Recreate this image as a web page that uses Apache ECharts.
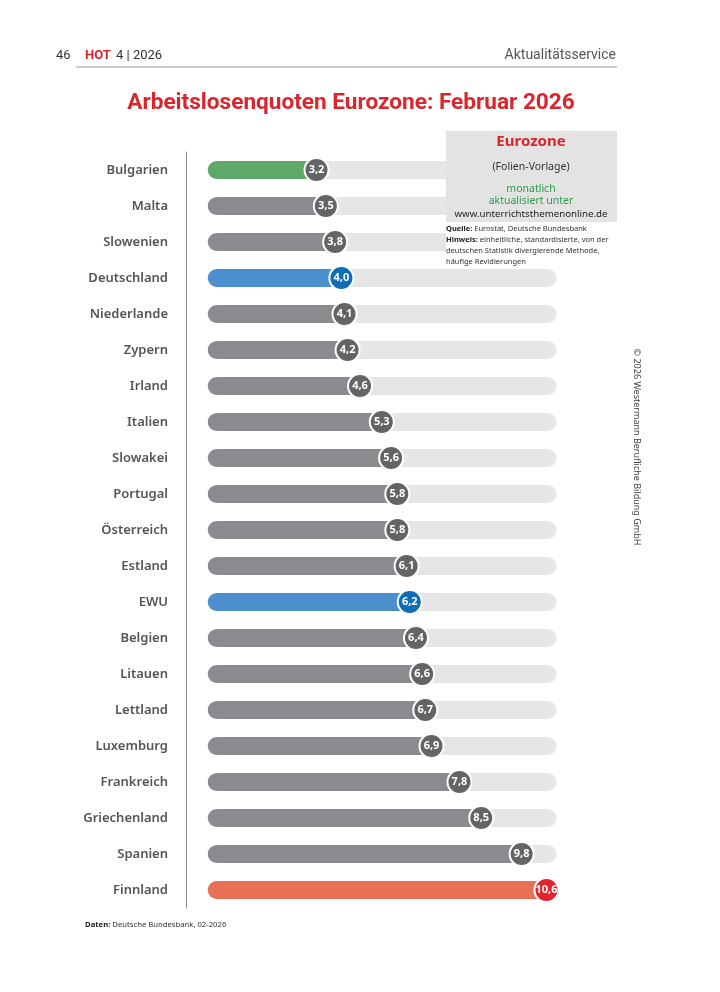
<!DOCTYPE html>
<html>
<head>
<meta charset="utf-8">
<script src="https://cdn.jsdelivr.net/npm/echarts@6/dist/echarts.min.js"></script>
<style>
html,body{margin:0;padding:0;background:#fff;}
#chart{width:720px;height:992px;}
</style>
</head>
<body>
<div id="chart"></div>
<script>
// ---- data ----
var categories = ['Bulgarien','Malta','Slowenien','Deutschland','Niederlande','Zypern','Irland','Italien','Slowakei','Portugal','Österreich','Estland','EWU','Belgien','Litauen','Lettland','Luxemburg','Frankreich','Griechenland','Spanien','Finnland'];
var rates = [3.2,3.5,3.8,4.0,4.1,4.2,4.6,5.3,5.6,5.8,5.8,6.1,6.2,6.4,6.6,6.7,6.9,7.8,8.5,9.8,10.6];
var highlight = ['low','base','base','de','base','base','base','base','base','base','base','base','de','base','base','base','base','base','base','base','high'];

var titleText = 'Arbeitslosenquoten Eurozone: Februar 2026';

// ---- styles ----
var barColors = {low:'#5ea86a', base:'#8a8b8e', de:'#4b8fcd', high:'#e96f55'};
var dotColors = {low:'#636466', base:'#636466', de:'#0e6db6', high:'#e0252d'};
var trackStart = -0.3, trackEnd = 10.92;

var chart = echarts.init(document.getElementById('chart'), null, {renderer:'canvas'});

var barData = rates.map(function(v,i){ return [i, v, highlight[i]]; });
var dotData = rates.map(function(v,i){
  return {value:[v, i], itemStyle:{color:dotColors[highlight[i]]}};
});

function fmt(v){ return v.toFixed(1).replace('.', ','); }

var FONT = 'Noto Sans';

chart.setOption({
  backgroundColor:'#ffffff',
  animation:false,
  textStyle:{fontFamily:FONT},
  grid:{left:186, right:130, top:152, bottom:84, containLabel:false},
  xAxis:{type:'value', min:-1, max:12, show:false},
  yAxis:{
    type:'category', inverse:true, data:categories,
    axisLine:{show:true, onZero:false, lineStyle:{color:'#8c8c8c', width:1}},
    axisTick:{show:false},
    axisLabel:{color:'#555555', fontSize:13, fontWeight:600, margin:18, fontFamily:FONT},
    splitLine:{show:false}
  },
  series:[
    {
      type:'custom',
      z:2,
      data:barData,
      encode:{x:1, y:0},
      renderItem:function(params, api){
        var i = api.value(0), v = api.value(1);
        var key = highlight[i];
        var p0 = api.coord([trackStart, i]);
        var pT = api.coord([trackEnd, i]);
        var pV = api.coord([v, i]);
        var h = 18;
        return {
          type:'group',
          children:[
            {type:'rect', shape:{x:p0[0], y:p0[1]-h/2, width:pT[0]-p0[0], height:h, r:h/2},
             style:{fill:'#e6e6e6'}},
            {type:'rect', shape:{x:p0[0], y:p0[1]-h/2, width:pV[0]-p0[0], height:h, r:h/2},
             style:{fill:barColors[key]}}
          ]
        };
      }
    },
    {
      type:'scatter',
      z:5,
      symbol:'circle',
      symbolSize:24,
      data:dotData,
      itemStyle:{borderColor:'#ffffff', borderWidth:2, opacity:1},
      label:{show:true, position:'inside', color:'#ffffff', fontSize:11, fontWeight:'bold', fontFamily:FONT,
        formatter:function(p){ return fmt(p.value[0]); }}
    }
  ],
  graphic:[
    // header
    {type:'text', left:56, top:49, z:10, style:{text:'46', fill:'#333', font:'13px "Roboto"'}},
    {type:'text', left:85, top:49, z:10, style:{text:'HOT', fill:'#d9262d', font:'bold 13px "Roboto"'}},
    {type:'text', left:116, top:49, z:10, style:{text:'4 | 2026', fill:'#333', font:'13px "Roboto"'}},
    {type:'text', right:104, top:48, z:10, style:{text:'Aktualitätsservice', fill:'#555', font:'14px "Roboto"', textAlign:'right'}},
    {type:'line', z:10, shape:{x1:76, y1:67, x2:617, y2:67}, style:{stroke:'#9a9a9a', lineWidth:1}},
    // title
    {type:'text', x:351, y:103, z:10, style:{text:titleText, fill:'#d9262d', font:'bold 22.6px "Roboto"', textAlign:'center', textVerticalAlign:'middle'}},
    // info box
    {type:'rect', z:20, shape:{x:446, y:131, width:171, height:137}, style:{fill:'#ffffff'}},
    {type:'rect', z:21, shape:{x:446, y:131, width:171, height:91}, style:{fill:'#e3e3e3'}},
    {type:'text', z:22, x:531, y:142, style:{text:'Eurozone', fill:'#d9262d', font:'bold 15px "Noto Sans"', textAlign:'center', textVerticalAlign:'middle'}},
    {type:'text', z:22, x:531, y:167, style:{text:'(Folien-Vorlage)', fill:'#333', font:'10.5px "Noto Sans"', textAlign:'center', textVerticalAlign:'middle'}},
    {type:'text', z:22, x:531, y:189, style:{text:'monatlich', fill:'#2e9a4b', font:'10.5px "Noto Sans"', textAlign:'center', textVerticalAlign:'middle'}},
    {type:'text', z:22, x:531, y:201, style:{text:'aktualisiert unter', fill:'#2e9a4b', font:'10.5px "Noto Sans"', textAlign:'center', textVerticalAlign:'middle'}},
    {type:'text', z:22, x:531, y:214, style:{text:'www.unterrichtsthemenonline.de', fill:'#222', font:'9.7px "Noto Sans"', textAlign:'center', textVerticalAlign:'middle'}},
    {type:'text', z:22, x:446, y:229, style:{text:'{b|Quelle:} Eurostat, Deutsche Bundesbank', textVerticalAlign:'middle',
      rich:{b:{fontWeight:'bold', fontSize:7.5, fill:'#222', fontFamily:'Noto Sans'}}, fill:'#333', font:'7.5px "Noto Sans"'}},
    {type:'text', z:22, x:446, y:240, style:{text:'{b|Hinweis:} einheitliche, standardisierte, von der', textVerticalAlign:'middle',
      rich:{b:{fontWeight:'bold', fontSize:7.5, fill:'#222', fontFamily:'Noto Sans'}}, fill:'#333', font:'7.5px "Noto Sans"'}},
    {type:'text', z:22, x:446, y:251, style:{text:'deutschen Statistik divergierende Methode,', fill:'#333', font:'7.5px "Noto Sans"', textVerticalAlign:'middle'}},
    {type:'text', z:22, x:446, y:262, style:{text:'häufige Revidierungen', fill:'#333', font:'7.5px "Noto Sans"', textVerticalAlign:'middle'}},
    // footer
    {type:'text', z:10, x:85, y:925, style:{text:'{b|Daten:} Deutsche Bundesbank, 02-2026', textVerticalAlign:'middle',
      rich:{b:{fontWeight:'bold', fontSize:7.7, fill:'#222', fontFamily:'Noto Sans'}}, fill:'#333', font:'7.7px "Noto Sans"'}},
    // copyright vertical
    {type:'text', z:10, x:637, y:447, rotation:-Math.PI/2, style:{text:'© 2026 Westermann Berufliche Bildung GmbH', fill:'#444', font:'9px "Noto Sans"', textAlign:'center', textVerticalAlign:'middle'}}
  ]
});
</script>
</body>
</html>
